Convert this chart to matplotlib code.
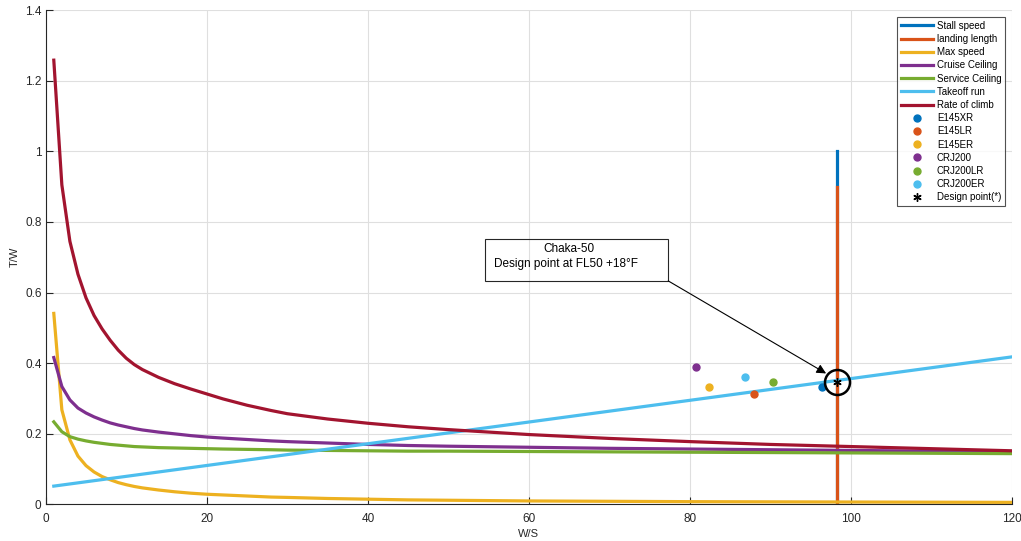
import matplotlib
matplotlib.use("Agg")
import matplotlib.pyplot as plt

plt.rcParams['font.family'] = ['Liberation Sans', 'DejaVu Sans']

# Wing loading samples (W/S) and thrust-to-weight constraints (T/W)
ws = [1, 2, 3, 4, 5, 6, 7, 8, 9, 10, 11, 12, 14, 16, 18, 20, 22, 25, 28, 30, 35, 40,
      45, 50, 60, 70, 80, 90, 100, 110, 120]
max_speed = [0.541, 0.268, 0.183, 0.137, 0.110, 0.092, 0.079, 0.070, 0.062, 0.056, 0.051,
             0.047, 0.041, 0.036, 0.032, 0.029, 0.027, 0.024, 0.021, 0.020, 0.017, 0.015,
             0.013, 0.012, 0.010, 0.009, 0.008, 0.0075, 0.007, 0.0065, 0.006]
cruise_ceiling = [0.416, 0.334, 0.296, 0.273, 0.259, 0.248, 0.239, 0.231, 0.225, 0.220, 0.215,
                  0.211, 0.205, 0.200, 0.195, 0.191, 0.188, 0.184, 0.180, 0.178, 0.174, 0.170,
                  0.167, 0.165, 0.162, 0.159, 0.157, 0.155, 0.153, 0.151, 0.149]
service_ceiling = [0.234, 0.206, 0.192, 0.185, 0.180, 0.176, 0.173, 0.170, 0.168, 0.166, 0.164,
                   0.163, 0.161, 0.160, 0.159, 0.158, 0.157, 0.156, 0.155, 0.154, 0.153, 0.152,
                   0.151, 0.151, 0.150, 0.149, 0.148, 0.147, 0.146, 0.145, 0.144]
rate_of_climb = [1.258, 0.905, 0.745, 0.652, 0.585, 0.535, 0.497, 0.465, 0.437, 0.414, 0.396,
                 0.382, 0.360, 0.342, 0.327, 0.313, 0.299, 0.281, 0.266, 0.257, 0.242, 0.230,
                 0.220, 0.212, 0.198, 0.187, 0.178, 0.170, 0.164, 0.158, 0.152]

takeoff_ws = [1, 120]
takeoff_run = [0.052, 0.418]

stall_ws = 98.2
stall_tw = [0, 1.0]
landing_ws = 98.2
landing_tw = [0, 0.9]

# Reference aircraft
aircraft = ['E145XR', 'E145LR', 'E145ER', 'CRJ200', 'CRJ200LR', 'CRJ200ER']
aircraft_ws = [96.4, 88.0, 82.4, 80.8, 90.3, 86.8]
aircraft_tw = [0.334, 0.312, 0.334, 0.388, 0.346, 0.362]

design_ws = 98.2
design_tw = 0.348

colors = ['#0072BD', '#D95319', '#EDB120', '#7E2F8E', '#77AC30', '#4DBEEE', '#A2142F']

fig = plt.figure(figsize=(10.21, 5.41), dpi=100)
ax = fig.add_axes([0.0448, 0.0675, 0.9465, 0.914])

lw = 2.3
ax.plot([stall_ws, stall_ws], stall_tw, color=colors[0], lw=lw, label='Stall speed')
ax.plot([landing_ws, landing_ws], landing_tw, color=colors[1], lw=lw, label='landing length')
ax.plot(ws, max_speed, color=colors[2], lw=lw, label='Max speed')
ax.plot(ws, cruise_ceiling, color=colors[3], lw=lw, label='Cruise Ceiling')
ax.plot(ws, service_ceiling, color=colors[4], lw=lw, label='Service Ceiling')
ax.plot(takeoff_ws, takeoff_run, color=colors[5], lw=lw, label='Takeoff run')
ax.plot(ws, rate_of_climb, color=colors[6], lw=lw, label='Rate of climb')

for name, x, y, c in zip(aircraft, aircraft_ws, aircraft_tw, colors[:6]):
    ax.plot([x], [y], 'o', color=c, ms=5, mec=c, ls='none', label=name)
ax.plot([design_ws], [design_tw], marker=(6, 2, 0), color='black', ms=6, mew=1.0,
        ls='none', label='Design point(*)')

# Ring around the design point
ax.plot([design_ws], [design_tw], 'o', ms=18, mfc='none', mec='black', mew=1.8)

# Annotation box with arrow
ax.annotate('', xy=(96.9, 0.371), xytext=(77.3, 0.633),
            arrowprops=dict(arrowstyle='-|>', color='black', lw=0.8,
                            mutation_scale=14, shrinkA=0, shrinkB=0))
ax.add_patch(plt.Rectangle((54.6, 0.633), 22.7, 0.119, fill=False, ec='#262626', lw=0.8))
ax.text(65.0, 0.722, 'Chaka-50', ha='center', va='center', fontsize=8.5, color='black')
ax.text(64.6, 0.682, 'Design point at FL50 +18°F', ha='center', va='center',
        fontsize=8.5, color='black')

ax.set_xlim(0, 120)
ax.set_ylim(0, 1.4)
ax.set_xticks([0, 20, 40, 60, 80, 100, 120])
ax.set_yticks([0, 0.2, 0.4, 0.6, 0.8, 1.0, 1.2, 1.4])
ax.set_yticklabels(['0', '0.2', '0.4', '0.6', '0.8', '1', '1.2', '1.4'])
ax.grid(True, color='#dfdfdf', lw=0.8)
ax.set_axisbelow(True)
for s in ['top', 'right']:
    ax.spines[s].set_visible(False)
for s in ['left', 'bottom']:
    ax.spines[s].set_color('#262626')
    ax.spines[s].set_linewidth(0.8)
ax.tick_params(direction='in', length=5, width=0.8, colors='#262626', labelsize=8.5)
ax.tick_params(axis='x', pad=6)
ax.tick_params(axis='y', pad=3)
ax.set_xlabel('W/S', fontsize=8, color='#262626', labelpad=3)
ax.set_ylabel('T/W', fontsize=8, color='#262626', labelpad=4)

leg = ax.legend(loc='upper right', fontsize=7, frameon=True, fancybox=False,
                edgecolor='#262626', borderaxespad=0.7, handlelength=3.3,
                handletextpad=0.4, labelspacing=0.33, numpoints=1, borderpad=0.4)
leg.get_frame().set_linewidth(0.8)

fig.savefig('out.png', dpi=100)
